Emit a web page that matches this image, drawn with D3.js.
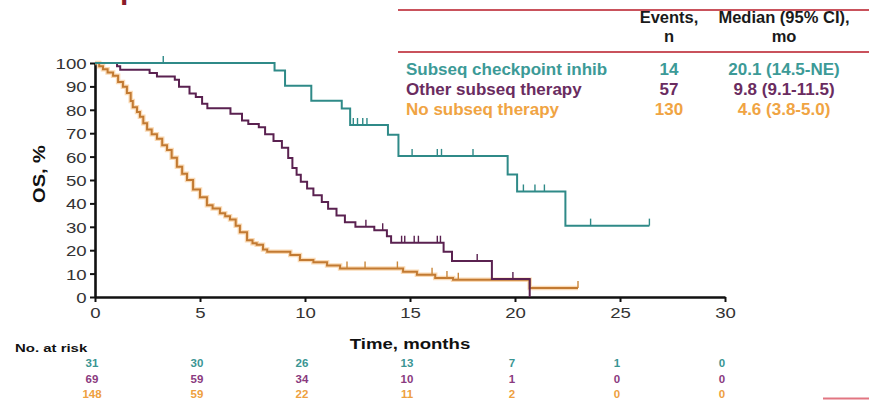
<!DOCTYPE html>
<html>
<head>
<meta charset="utf-8">
<script src="https://cdn.jsdelivr.net/npm/d3@7"></script>
<style>
  body { margin: 0; background: #fff; }
  svg { display: block; font-family: "Liberation Sans", Arial, sans-serif; }
</style>
</head>
<body>
<svg id="chart" width="869" height="400"></svg>
<script>
// ---- Data -------------------------------------------------------------
const groups  = ["Subseq checkpoint inhib", "Other subseq therapy", "No subseq therapy"];
const events  = [14, 57, 130];
const medians = ["20.1 (14.5-NE)", "9.8 (9.1-11.5)", "4.6 (3.8-5.0)"];

// Kaplan-Meier steps: survival (%) from each event time onward
const checkpointTimes = [0, 8.55, 9.05, 10.3, 11.75, 12.15, 13.95, 14.45, 19.65, 20.1, 22.4];
const checkpointSurv  = [100, 96.8, 90.3, 83.9, 80.6, 73.5, 69.3, 60.3, 52.3, 45.1, 30.5];
const checkpointEnd   = 26.4;
const checkpointCensor = [3.25, 12.3, 12.5, 12.75, 12.95, 15.1, 16.3, 16.5, 18.0, 20.4, 20.95, 21.4, 23.6, 26.4];

const otherTimes = [0, 1.05, 1.2, 2.6, 2.95, 3.8, 4.0, 4.5, 4.8, 5.1, 5.35, 6.45, 7.0, 7.3, 7.8, 8.1, 8.5, 8.9,
                    9.2, 9.4, 9.6, 9.8, 10.1, 10.4, 10.8, 11.1, 11.5, 11.9, 12.4, 13.3, 13.9, 14.1, 16.6, 17.0, 18.9, 20.7];
const otherSurv  = [100, 98.6, 97.1, 95.7, 94.2, 92.8, 89.9, 87.0, 85.5, 82.6, 80.7, 78.3, 75.4, 73.9, 72.5, 69.6, 66.7, 63.8,
                    59.4, 55.1, 52.2, 49.3, 46.4, 43.5, 40.6, 37.7, 34.8, 31.9, 30.0, 28.5, 26.0, 23.2, 19.3, 15.4, 7.7, 0];
const otherEnd   = 20.7;
const otherCensor = [12.9, 13.7, 14.6, 14.75, 15.2, 15.4, 16.3, 16.45, 18.2, 19.9];

const noneTimes = [0, 0.2, 0.38, 0.6, 0.86, 1.1, 1.33, 1.52, 1.7, 1.8, 2.0, 2.14, 2.3, 2.48, 2.7, 2.95, 3.2, 3.43, 3.65, 3.9,
                   4.15, 4.38, 4.67, 5.0, 5.33, 5.6, 5.95, 6.2, 6.43, 6.7, 6.9, 7.24, 7.5, 7.7, 8.0, 8.2, 9.3, 9.76, 10.4,
                   11.05, 11.67, 14.67, 15.33, 16.2, 17.05, 20.7];
const noneSurv  = [100, 98.6, 97.3, 95.9, 94.6, 91.9, 89.9, 87.2, 83.8, 81.1, 79.1, 77.0, 74.3, 71.6, 69.6, 67.6, 64.9, 62.8, 59.5, 55.7,
                   52.7, 50.0, 45.9, 42.6, 39.2, 37.8, 35.8, 34.5, 33.1, 30.4, 27.7, 24.3, 23.0, 22.3, 20.3, 19.3, 18.0, 15.8, 14.9,
                   13.5, 12.2, 10.8, 9.5, 8.1, 7.4, 3.8];
const noneEnd   = 23.0;
const noneCensor = [12.0, 12.86, 14.4, 16.05, 16.76, 17.3, 23.0];

// Number at risk
const riskTimes        = [0, 5, 10, 15, 20, 25, 30];
const atRiskCheckpoint = [31, 30, 26, 13, 7, 1, 0];
const atRiskOther      = [69, 59, 34, 10, 1, 0, 0];
const atRiskNone       = [148, 59, 22, 11, 2, 0, 0];

// Axis ticks
const xTicks = [0, 5, 10, 15, 20, 25, 30];
const yTicks = [0, 10, 20, 30, 40, 50, 60, 70, 80, 90, 100];

// ---- Styling -----------------------------------------------------------
const lineColors  = ["#2f8a88", "#5a2150", "#d5862c"];
const textColors  = ["#3c9a97", "#6a2c60", "#f0a443"];
const riskColors  = ["#3a9593", "#8a3a80", "#eea040"];
const accentRed   = "#c9525c";
const stretchX    = 1.2;

const svg = d3.select("#chart");

const x = d3.scaleLinear().domain([0, 30]).range([95, 725]);
const y = d3.scaleLinear().domain([0, 100]).range([297, 63]);

// Slide heading, running off the top edge
svg.append("text")
  .attr("x", 20).attr("y", -1)
  .attr("font-size", 30).attr("font-weight", "bold")
  .attr("fill", "#8a1c2b")
  .text("Subsequent Treatment and Overall Survival");

// ---- Axes ---------------------------------------------------------------
const yAxis = svg.append("g")
  .attr("transform", `translate(${x(0)},0)`)
  .call(d3.axisLeft(y).tickValues(yTicks).tickSize(5).tickSizeOuter(0).tickPadding(2));
const xAxis = svg.append("g")
  .attr("transform", `translate(0,${y(0)})`)
  .call(d3.axisBottom(x).tickValues(xTicks).tickSize(5).tickSizeOuter(0).tickPadding(5));

[yAxis, xAxis].forEach(ax => {
  ax.select(".domain").attr("stroke", "#111").attr("stroke-width", 2.6);
  ax.selectAll(".tick line").attr("stroke", "#111").attr("stroke-width", 2);
  ax.selectAll(".tick text")
    .attr("font-family", "Liberation Sans, Arial, sans-serif")
    .attr("font-size", 15.5)
    .attr("fill", "#333")
    .attr("transform", `scale(${stretchX},1)`);
});
yAxis.selectAll(".tick text").attr("dy", "0.36em");

// Axis titles
svg.append("text")
  .attr("transform", `translate(410,349) scale(${stretchX},1)`)
  .attr("text-anchor", "middle")
  .attr("font-size", 15.5).attr("font-weight", "bold").attr("fill", "#111")
  .text("Time, months");

svg.append("text")
  .attr("transform", `translate(45,174) rotate(-90) scale(1.25,1)`)
  .attr("text-anchor", "middle")
  .attr("font-size", 16).attr("font-weight", "bold").attr("fill", "#111")
  .text("OS, %");

// ---- Kaplan-Meier curves ---------------------------------------------
const series = [
  { times: checkpointTimes, surv: checkpointSurv, end: checkpointEnd, censor: checkpointCensor },
  { times: otherTimes,      surv: otherSurv,      end: otherEnd,      censor: otherCensor },
  { times: noneTimes,       surv: noneSurv,       end: noneEnd,       censor: noneCensor }
];

const stepLine = d3.line()
  .x(d => x(d[0]))
  .y(d => y(d[1]))
  .curve(d3.curveStepAfter);

function survivalAt(s, t) {
  let v = s.surv[0];
  for (let i = 0; i < s.times.length; i++) if (s.times[i] <= t) v = s.surv[i];
  return v;
}

// draw order: no subsequent therapy beneath, checkpoint on top
[2, 1, 0].forEach(i => {
  const s = series[i];
  const pts = s.times.map((t, j) => [t, s.surv[j]]);
  pts.push([s.end, s.surv[s.surv.length - 1]]);
  const g = svg.append("g");
  if (i === 2) {
    g.append("path").attr("d", stepLine(pts))
      .attr("fill", "none").attr("stroke", "#f6c183").attr("stroke-width", 4.5)
      .attr("stroke-opacity", 0.6);
  }
  g.append("path").attr("d", stepLine(pts))
    .attr("fill", "none")
    .attr("stroke", i === 2 ? "#c27a32" : lineColors[i])
    .attr("stroke-width", 2);
  g.selectAll("line.censor").data(s.censor).join("line")
    .attr("class", "censor")
    .attr("x1", d => x(d)).attr("x2", d => x(d))
    .attr("y1", d => y(survivalAt(s, d)))
    .attr("y2", d => y(survivalAt(s, d)) - 7)
    .attr("stroke", i === 2 ? "#c9863a" : lineColors[i])
    .attr("stroke-width", 1.4);
});

// ---- Summary table ----------------------------------------------------
const tbl = svg.append("g");
tbl.append("line").attr("x1", 398).attr("x2", 869).attr("y1", 10).attr("y2", 10)
  .attr("stroke", accentRed).attr("stroke-width", 2);
tbl.append("line").attr("x1", 398).attr("x2", 869).attr("y1", 52).attr("y2", 52)
  .attr("stroke", accentRed).attr("stroke-width", 2);

const colEvents = 669, colMedian = 784;
const headerStyle = t => t.attr("font-size", 16.5).attr("font-weight", "bold").attr("fill", "#1a1a1a").attr("text-anchor", "middle");
tbl.append("text").attr("x", colEvents).attr("y", 23).call(headerStyle).text("Events,");
tbl.append("text").attr("x", colEvents).attr("y", 42).call(headerStyle).text("n");
tbl.append("text").attr("x", colMedian).attr("y", 23).call(headerStyle).text("Median (95% CI),");
tbl.append("text").attr("x", colMedian).attr("y", 42).call(headerStyle).text("mo");

const rowY = [75, 95, 115];
groups.forEach((name, i) => {
  const row = tbl.append("g")
    .attr("font-size", 17).attr("font-weight", "bold").attr("fill", textColors[i]);
  row.append("text").attr("x", 406).attr("y", rowY[i]).text(name);
  row.append("text").attr("x", colEvents).attr("y", rowY[i]).attr("text-anchor", "middle").text(events[i]);
  row.append("text").attr("x", colMedian).attr("y", rowY[i]).attr("text-anchor", "middle").text(medians[i]);
});

// ---- Number at risk ---------------------------------------------------
svg.append("text")
  .attr("transform", `translate(15,352) scale(1.3,1)`)
  .attr("font-size", 11.5).attr("font-weight", "bold").attr("fill", "#111")
  .text("No. at risk");

const riskRows = [atRiskCheckpoint, atRiskOther, atRiskNone];
const riskY = [367, 383, 398];
riskRows.forEach((vals, i) => {
  svg.append("g").selectAll("text").data(vals).join("text")
    .attr("x", (d, j) => x(riskTimes[j]) - 3)
    .attr("y", riskY[i])
    .attr("text-anchor", "middle")
    .attr("font-size", 11.5).attr("font-weight", "bold")
    .attr("fill", riskColors[i])
    .text(d => d);
});

// corner accent
svg.append("line").attr("x1", 823).attr("x2", 869).attr("y1", 398.5).attr("y2", 398.5)
  .attr("stroke", "#e27682").attr("stroke-width", 2);
</script>
</body>
</html>
